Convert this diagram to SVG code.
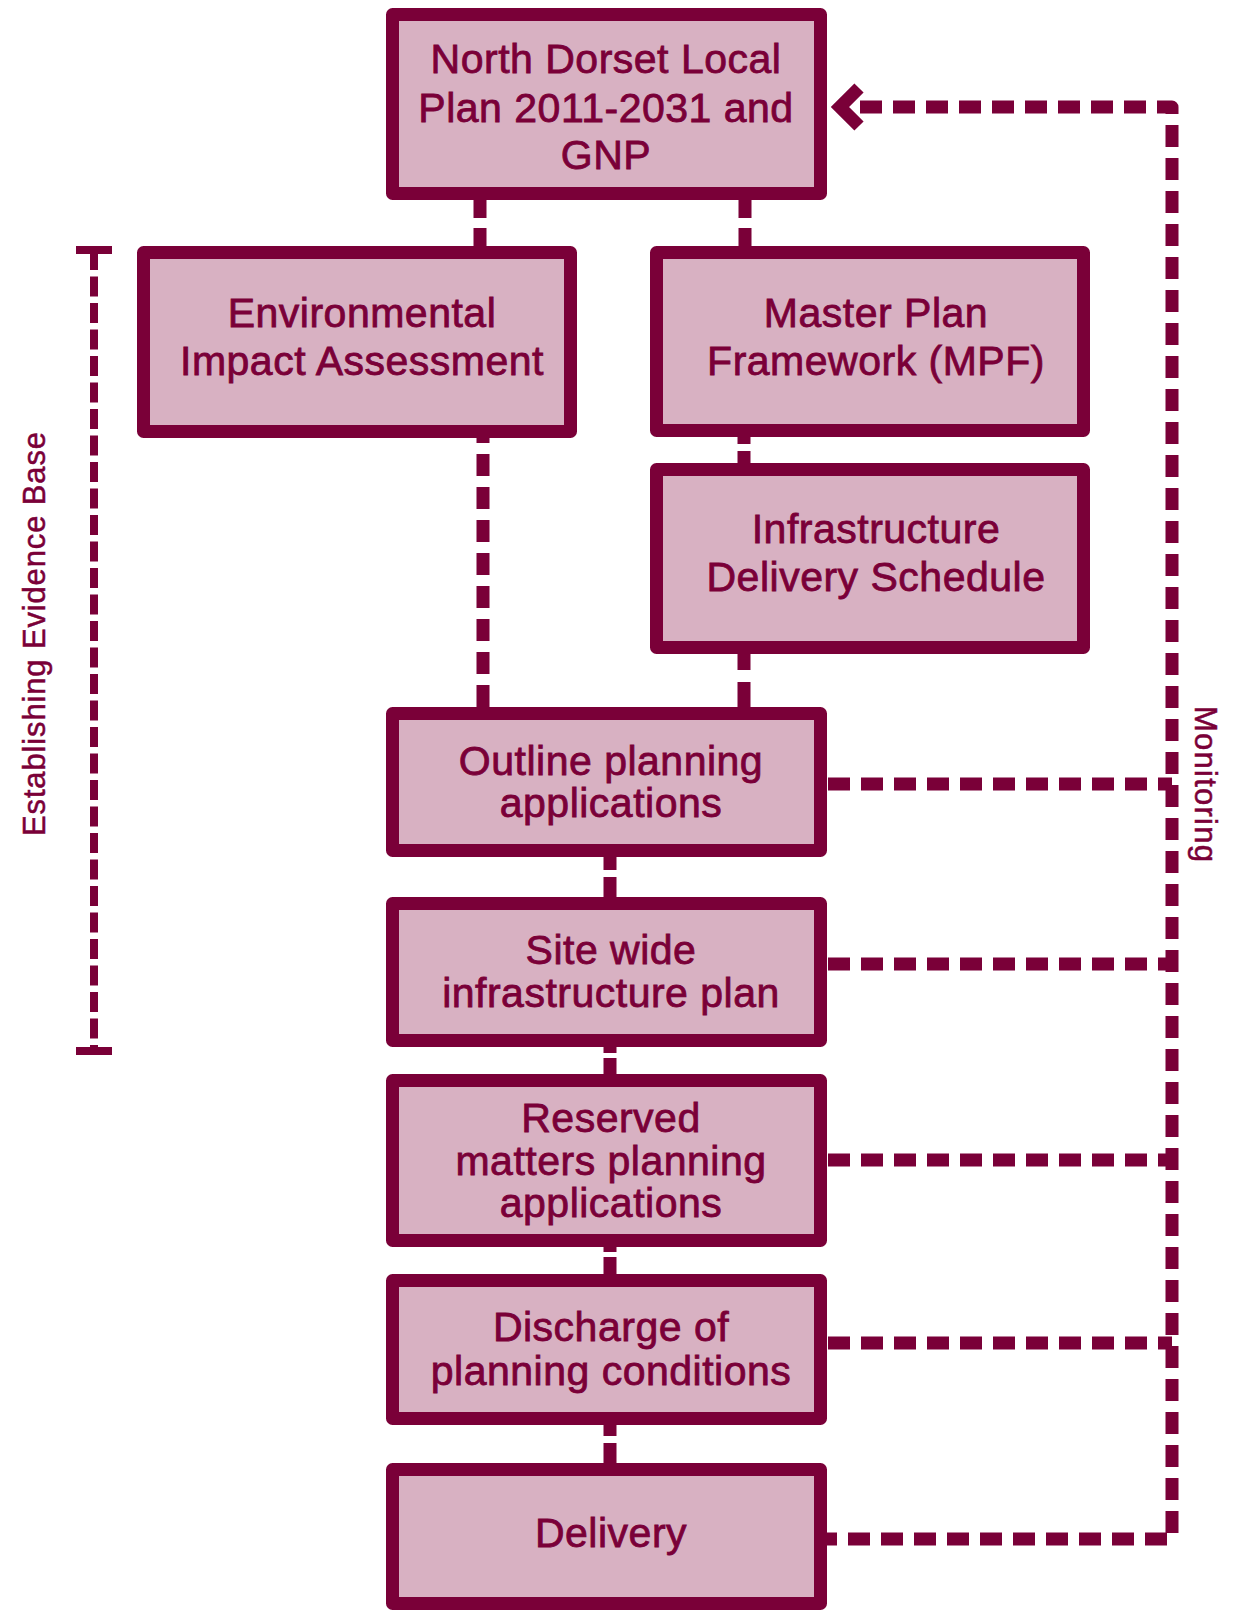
<svg xmlns="http://www.w3.org/2000/svg" width="1234" height="1610" viewBox="0 0 1234 1610">
<style>
.box{fill:#d8b1c2;stroke:#7a0038;stroke-width:13;stroke-linejoin:round}
.t{font-family:"Liberation Sans",Arial,sans-serif;font-size:41px;letter-spacing:0.5px;fill:#7a0038;stroke:#7a0038;stroke-width:0.8px;text-anchor:middle}
.lbl{font-family:"Liberation Sans",Arial,sans-serif;font-size:31px;fill:#7a0038;stroke:#7a0038;stroke-width:0.5px;text-anchor:middle}
.c{fill:none;stroke:#7a0038;stroke-width:13}
.m{fill:none;stroke:#7a0038;stroke-width:13;stroke-dasharray:22 11;stroke-linejoin:round}
.b{fill:none;stroke:#7a0038;stroke-width:8}
</style>
<rect width="1234" height="1610" fill="#ffffff"/>
<g id="connectors">
<line class="c" x1="480" y1="200" x2="480" y2="246" stroke-dasharray="18 10"/>
<line class="c" x1="745" y1="200" x2="745" y2="246" stroke-dasharray="18 10"/>
<line class="c" x1="483" y1="707" x2="483" y2="438" stroke-dasharray="22 11"/>
<line class="c" x1="744" y1="463" x2="744" y2="437" stroke-dasharray="12 7"/>
<line class="c" x1="744" y1="707" x2="744" y2="654" stroke-dasharray="25 12"/>
<line class="c" x1="610" y1="897" x2="610" y2="857" stroke-dasharray="20 7"/>
<line class="c" x1="610" y1="1074" x2="610" y2="1047" stroke-dasharray="16 5"/>
<line class="c" x1="610" y1="1274" x2="610" y2="1247" stroke-dasharray="17 5"/>
<line class="c" x1="610" y1="1463" x2="610" y2="1425" stroke-dasharray="20 7"/>
<path class="m" d="M860 107 H1172 V1539 H827"/>
<line class="m" x1="828" y1="784" x2="1172" y2="784"/>
<line class="m" x1="828" y1="964" x2="1172" y2="964"/>
<line class="m" x1="828" y1="1160" x2="1172" y2="1160"/>
<line class="m" x1="828" y1="1343" x2="1172" y2="1343"/>
<polyline points="859,88 840,107 859,126" fill="none" stroke="#7a0038" stroke-width="13" stroke-linejoin="miter"/>
</g>
<g id="evidence-bracket">
<line class="b" x1="94" y1="250" x2="94" y2="1051" stroke-dasharray="20 6.5"/>
<line class="b" x1="76" y1="250" x2="112" y2="250"/>
<line class="b" x1="76" y1="1051" x2="112" y2="1051"/>
<text class="lbl" transform="translate(45,634) rotate(-90)" textLength="404" lengthAdjust="spacing">Establishing Evidence Base</text>
</g>
<g id="monitoring-label">
<text class="lbl" transform="translate(1195,784) rotate(90)" textLength="156" lengthAdjust="spacing">Monitoring</text>
</g>
<g id="local-plan">
<rect class="box" x="392.5" y="14.5" width="428" height="179"/>
<text class="t" x="606" y="73">North Dorset Local</text>
<text class="t" x="606" y="122">Plan 2011-2031 and</text>
<text class="t" x="606" y="169">GNP</text>
</g>
<g id="eia">
<rect class="box" x="143.5" y="252.5" width="427" height="179"/>
<text class="t" x="362" y="327">Environmental</text>
<text class="t" x="362" y="375">Impact Assessment</text>
</g>
<g id="mpf">
<rect class="box" x="656.5" y="252.5" width="427" height="178"/>
<text class="t" x="876" y="327">Master Plan</text>
<text class="t" x="876" y="375">Framework (MPF)</text>
</g>
<g id="ids">
<rect class="box" x="656.5" y="469.5" width="427" height="178"/>
<text class="t" x="876" y="543">Infrastructure</text>
<text class="t" x="876" y="591">Delivery Schedule</text>
</g>
<g id="outline">
<rect class="box" x="392.5" y="713.5" width="428" height="137"/>
<text class="t" x="611" y="775">Outline planning</text>
<text class="t" x="611" y="817">applications</text>
</g>
<g id="site-wide">
<rect class="box" x="392.5" y="903.5" width="428" height="137"/>
<text class="t" x="611" y="964">Site wide</text>
<text class="t" x="611" y="1007">infrastructure plan</text>
</g>
<g id="reserved">
<rect class="box" x="392.5" y="1080.5" width="428" height="160"/>
<text class="t" x="611" y="1132">Reserved</text>
<text class="t" x="611" y="1175">matters planning</text>
<text class="t" x="611" y="1217">applications</text>
</g>
<g id="discharge">
<rect class="box" x="392.5" y="1280.5" width="428" height="138"/>
<text class="t" x="611" y="1341">Discharge of</text>
<text class="t" x="611" y="1385">planning conditions</text>
</g>
<g id="delivery">
<rect class="box" x="392.5" y="1469.5" width="428" height="134"/>
<text class="t" x="611" y="1547">Delivery</text>
</g>
</svg>
